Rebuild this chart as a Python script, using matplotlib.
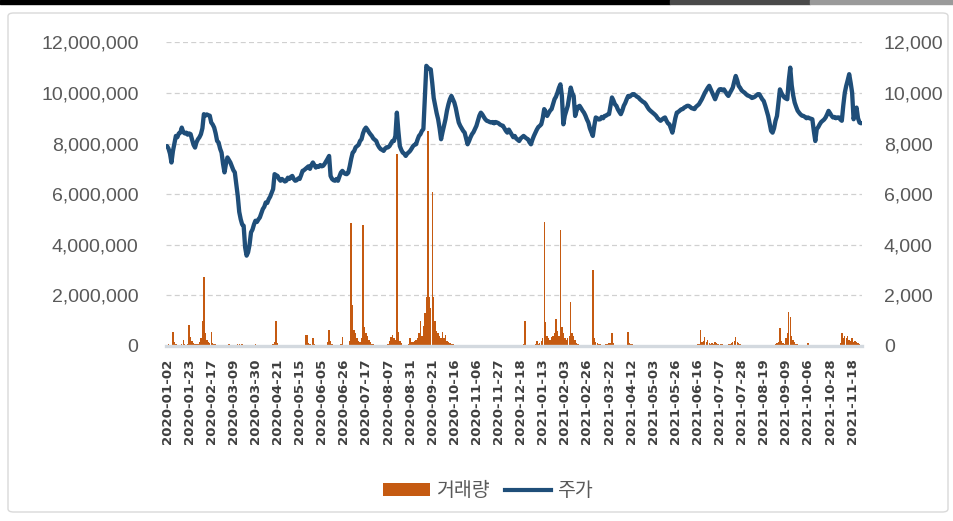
import numpy as np
import matplotlib.pyplot as plt
from matplotlib.patches import Rectangle, FancyBboxPatch, Patch
from matplotlib.lines import Line2D
from matplotlib.ticker import FuncFormatter

# daily close (won), one row per 15 trading days
price = [
    7900, 7800, 7600, 7250, 7700, 8000, 8300, 8250, 8400, 8430, 8630, 8450, 8400, 8430, 8350,
    8400, 8370, 8150, 7950, 7840, 8050, 8170, 8250, 8370, 8600, 9160, 9100, 9150, 9120, 9100,
    8830, 8750, 8630, 8400, 8100, 8040, 7800, 7640, 7200, 6860, 7200, 7450, 7350, 7250, 7100,
    6950, 6860, 6400, 5930, 5300, 5010, 4800, 4750, 3900, 3570, 3700, 4000, 4490, 4600, 4800,
    4950, 4900, 5000, 5080, 5250, 5410, 5500, 5670, 5650, 5800, 5900, 6050, 6200, 6790, 6750,
    6720, 6600, 6530, 6600, 6550, 6500, 6530, 6650, 6600, 6680, 6720, 6600, 6530, 6550, 6620,
    6600, 6750, 6920, 6950, 7000, 7050, 7100, 7000, 7150, 7250, 7150, 7050, 7100, 7080, 7150,
    7100, 7120, 7200, 7300, 7400, 7510, 6720, 6600, 6550, 6530, 6600, 6530, 6700, 6850, 6920,
    6850, 6800, 6790, 6850, 7100, 7400, 7640, 7700, 7850, 7900, 7950, 8100, 8170, 8400, 8550,
    8630, 8550, 8450, 8370, 8300, 8200, 8150, 8100, 7950, 7850, 7780, 7750, 7710, 7800, 7850,
    7850, 7900, 8000, 8100, 8100, 8300, 9220, 8500, 7900, 7750, 7640, 7600, 7510, 7600, 7650,
    7710, 7800, 7900, 7950, 7970, 8150, 8300, 8370, 8500, 8570, 9800, 11070, 11000, 10950, 10930,
    10400, 9800, 9490, 9200, 8960, 8600, 8170, 8450, 8700, 8960, 9300, 9550, 9750, 9880, 9750,
    9620, 9400, 9100, 8830, 8700, 8600, 8500, 8430, 8200, 7970, 8100, 8250, 8370, 8450, 8570,
    8700, 8900, 9100, 9220, 9150, 9050, 8960, 8900, 8880, 8850, 8830, 8850, 8800, 8850, 8830,
    8800, 8750, 8720, 8700, 8600, 8500, 8430, 8550, 8450, 8350, 8250, 8300, 8200, 8150, 8100,
    8200, 8250, 8300, 8250, 8200, 8170, 8050, 7970, 8150, 8300, 8430, 8550, 8650, 8700, 8760,
    9000, 9360, 9250, 9090, 9200, 9300, 9360, 9550, 9750, 9850, 10010, 10200, 10340, 9880, 8760,
    9100, 9300, 9490, 9850, 10210, 10000, 9880, 9090, 9300, 9450, 9490, 9400, 9300, 9220, 9100,
    8950, 8830, 8600, 8450, 8300, 8700, 9030, 9000, 8950, 8960, 9050, 9000, 9090, 9100, 9150,
    9160, 9500, 9820, 9700, 9550, 9490, 9350, 9250, 9160, 9300, 9490, 9600, 9750, 9880, 9850,
    9900, 9950, 9950, 9900, 9850, 9820, 9750, 9700, 9650, 9620, 9550, 9450, 9360, 9300, 9250,
    9200, 9150, 9090, 9000, 8950, 8900, 8950, 9000, 9030, 8900, 8800, 8760, 8600, 8430, 8700,
    9000, 9220, 9250, 9300, 9350, 9360, 9420, 9450, 9490, 9490, 9450, 9400, 9380, 9360, 9450,
    9500, 9550, 9650, 9750, 9880, 10000, 10100, 10200, 10280, 10150, 10010, 9900, 9750, 9900, 10050,
    10140, 10150, 10100, 10140, 10050, 9950, 9880, 10000, 10100, 10210, 10450, 10670, 10500, 10280, 10200,
    10100, 10050, 10010, 9950, 9900, 9880, 9850, 9800, 9820, 9850, 9900, 9950, 9950, 9850, 9750,
    9680, 9500, 9300, 9090, 8800, 8500, 8430, 8600, 8900, 9090, 9600, 10140, 10000, 9900, 9820,
    9780, 9750, 10500, 11000, 10300, 9900, 9620, 9450, 9300, 9220, 9150, 9100, 9090, 9050, 9000,
    9030, 9000, 8980, 8960, 8500, 8100, 8570, 8650, 8760, 8850, 8900, 8950, 9030, 9150, 9290,
    9200, 9100, 9030, 9050, 9000, 9030, 9030, 8950, 8900, 9500, 10000, 10280, 10500, 10740, 10400,
    10010, 8960, 9200, 9420, 9000, 8830, 8800,
]

# daily volume, thousand shares
volume_k = [
    40, 60, 30, 50, 560, 150, 80, 40, 30, 20, 60, 230, 70, 50, 60,
    830, 360, 200, 120, 80, 60, 90, 150, 300, 990, 2710, 500, 250, 150, 100,
    560, 120, 80, 60, 40, 30, 20, 30, 20, 15, 20, 40, 60, 50, 30,
    20, 30, 40, 80, 60, 30, 70, 50, 40, 30, 20, 10, 10, 20, 30,
    60, 50, 40, 30, 50, 40, 30, 20, 10, 30, 20, 40, 60, 150, 990,
    100, 30, 10, 5, 5, 5, 5, 5, 5, 5, 5, 5, 5, 5, 5,
    5, 5, 10, 20, 440, 440, 120, 60, 30, 300, 80, 20, 10, 5, 5,
    5, 10, 10, 20, 150, 630, 200, 60, 20, 10, 5, 10, 20, 60, 360,
    50, 20, 10, 30, 200, 4870, 1620, 630, 500, 300, 200, 150, 300, 4770, 760,
    500, 400, 250, 150, 80, 60, 40, 30, 20, 10, 10, 20, 10, 10, 10,
    60, 200, 360, 440, 300, 250, 7600, 560, 200, 100, 50, 40, 30, 30, 60,
    300, 150, 150, 200, 250, 300, 500, 990, 400, 800, 1290, 1950, 8500, 1950, 1500,
    6100, 1950, 1000, 600, 500, 400, 300, 560, 300, 440, 200, 150, 100, 80, 60,
    40, 30, 20, 30, 40, 20, 10, 10, 30, 40, 20, 10, 5, 5, 10,
    5, 20, 30, 10, 5, 5, 10, 20, 5, 5, 10, 5, 5, 5, 10,
    20, 10, 5, 5, 20, 30, 10, 5, 5, 5, 10, 5, 20, 40, 20,
    10, 20, 60, 990, 50, 20, 10, 10, 20, 30, 60, 200, 80, 100, 200,
    300, 4900, 930, 400, 300, 250, 350, 400, 500, 1050, 600, 400, 4600, 760, 500,
    300, 250, 300, 400, 1750, 500, 400, 250, 100, 60, 40, 20, 10, 10, 20,
    10, 20, 10, 30, 3000, 300, 150, 100, 80, 60, 50, 40, 50, 60, 80,
    100, 120, 500, 100, 50, 20, 10, 20, 10, 30, 40, 30, 20, 560, 100,
    80, 60, 50, 40, 30, 20, 10, 5, 5, 5, 5, 10, 5, 5, 5,
    10, 20, 10, 5, 5, 10, 15, 10, 5, 20, 10, 5, 10, 15, 20,
    10, 5, 20, 30, 20, 10, 5, 10, 20, 30, 40, 20, 10, 30, 50,
    60, 80, 630, 150, 200, 360, 150, 250, 100, 80, 120, 60, 150, 100, 60,
    40, 60, 80, 50, 40, 30, 60, 80, 100, 150, 200, 360, 150, 100, 60,
    40, 20, 10, 5, 5, 5, 5, 5, 5, 5, 5, 5, 5, 5, 5,
    5, 5, 5, 5, 10, 20, 40, 30, 60, 100, 150, 700, 200, 100, 60,
    300, 500, 1360, 1140, 400, 250, 150, 80, 60, 40, 20, 10, 10, 20, 30,
    100, 40, 20, 10, 5, 10, 30, 20, 10, 5, 5, 5, 10, 5, 5,
    5, 10, 20, 10, 20, 30, 40, 100, 500, 300, 400, 300, 400, 250, 200,
    300, 150, 200, 150, 100, 80, 50,
]

tick_labels = [
    "2020-01-02", "2020-01-23", "2020-02-17", "2020-03-09", "2020-03-30", "2020-04-21",
    "2020-05-15", "2020-06-05", "2020-06-26", "2020-07-17", "2020-08-07", "2020-08-31",
    "2020-09-21", "2020-10-16", "2020-11-06", "2020-11-27", "2020-12-18", "2021-01-13",
    "2021-02-03", "2021-02-26", "2021-03-22", "2021-04-12", "2021-05-03", "2021-05-26",
    "2021-06-16", "2021-07-07", "2021-07-28", "2021-08-19", "2021-09-09", "2021-10-06",
    "2021-10-28", "2021-11-18",
]

ORANGE = "#c55a11"
NAVY = "#1f4e79"
GREY_TXT = "#595959"

W, H = 954, 521
fig = plt.figure(figsize=(W / 100, H / 100), dpi=100, facecolor="white")

# screen strip and chart frame
fig.patches.append(Rectangle((0, 1 - 4 / H), 670 / W, 4 / H, transform=fig.transFigure,
                             color="black", zorder=0))
fig.patches.append(Rectangle((670 / W, 1 - 4 / H), 140 / W, 4 / H, transform=fig.transFigure,
                             color="#4a4a4a", zorder=0))
fig.patches.append(Rectangle((810 / W, 1 - 4 / H), 144 / W, 4 / H, transform=fig.transFigure,
                             color="#9a9a9a", zorder=0))
fig.patches.append(FancyBboxPatch((8 / W, 9 / H), 940 / W, 499 / H,
                                  boxstyle="round,pad=0,rounding_size=0.006",
                                  transform=fig.transFigure, fill=False,
                                  edgecolor="#d9d9d9", lw=1.0, zorder=0))

x = np.arange(len(price))
ax = fig.add_axes([166.3 / W, 1 - 346 / H, (861.7 - 166.3) / W, (346 - 42.3) / H])
ax.set_facecolor("none")
ax2 = ax.twinx()

ax.bar(x, np.array(volume_k) * 1000, width=0.95, color=ORANGE, linewidth=0)
ax2.plot(x, price, color=NAVY, lw=3.1, solid_joinstyle="round", solid_capstyle="round")

ax.set_xlim(-0.5, len(price) - 0.5)
ax.set_ylim(0, 12_000_000)
ax2.set_ylim(0, 12_000)
ax.set_yticks(np.arange(0, 12_000_001, 2_000_000))
ax2.set_yticks(np.arange(0, 12_001, 2_000))
fmt = FuncFormatter(lambda v, _: f"{v:,.0f}")
ax.yaxis.set_major_formatter(fmt)
ax2.yaxis.set_major_formatter(fmt)

ax.set_xticks(np.arange(0, len(price), 15))
ax.set_xticklabels(tick_labels, rotation=90, fontsize=9.6, fontweight="bold",
                   color="#3f3f3f", family="DejaVu Sans")

for a in (ax, ax2):
    for s in a.spines.values():
        s.set_visible(False)
    a.tick_params(axis="y", length=0, labelsize=14, labelcolor=GREY_TXT)
    for lab in a.get_yticklabels():
        lab.set_family("Liberation Sans")
ax.tick_params(axis="y", pad=20)
ax2.tick_params(axis="y", pad=16)
ax.tick_params(axis="x", length=0, pad=9)

ax.spines["bottom"].set_visible(True)
ax.spines["bottom"].set_color("#d3d9df")
ax.spines["bottom"].set_linewidth(2.4)

for gy in np.arange(2_000_000, 12_000_001, 2_000_000):
    ax.axhline(gy, color="#d0d0d0", lw=0.9, dashes=(4.0, 2.6), zorder=0)

handles = [Patch(facecolor=ORANGE, edgecolor="none"),
           Line2D([], [], color=NAVY, lw=3.0)]
fig.legend(handles, ["거래량", "주가"], loc="center", bbox_to_anchor=(488 / W, 1 - 491 / H),
           ncol=2, frameon=False, handlelength=2.4, handleheight=0.65,
           handletextpad=0.3, columnspacing=0.8,
           prop={"family": ["Noto Sans CJK KR", "DejaVu Sans"], "size": 14},
           labelcolor=GREY_TXT)

fig.savefig("out.png", dpi=100, facecolor="white")
